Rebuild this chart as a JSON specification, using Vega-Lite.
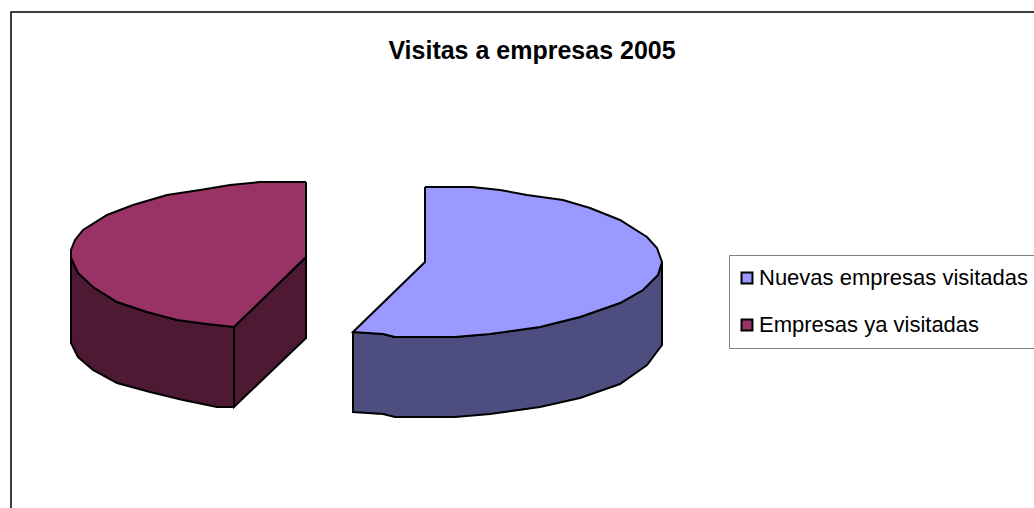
{
"$schema":"https://vega.github.io/schema/vega-lite/v6.json",
"width":1034,"height":508,"autosize":"none","padding":0,
"background":"white",
"view":{"stroke":null},
"title":{"text":"Visitas a empresas 2005","anchor":"middle","orient":"top","offset":-84,"dx":15,"font":"Liberation Sans","fontSize":25,"fontWeight":"bold","color":"#000000","baseline":"alphabetic"},
"data":{"values":[
{"serie":"Marco","cara":"marco","orden":1,"x":11,"y":508},{"serie":"Marco","cara":"marco","orden":2,"x":11,"y":12},{"serie":"Marco","cara":"marco","orden":3,"x":1034,"y":12},
{"serie":"Empresas ya visitadas","cara":"lateral1","orden":1,"x":71,"y":258},{"serie":"Empresas ya visitadas","cara":"lateral1","orden":2,"x":78,"y":273},{"serie":"Empresas ya visitadas","cara":"lateral1","orden":3,"x":93,"y":287},{"serie":"Empresas ya visitadas","cara":"lateral1","orden":4,"x":117,"y":302},{"serie":"Empresas ya visitadas","cara":"lateral1","orden":5,"x":147,"y":312},{"serie":"Empresas ya visitadas","cara":"lateral1","orden":6,"x":177,"y":320},{"serie":"Empresas ya visitadas","cara":"lateral1","orden":7,"x":207,"y":324},{"serie":"Empresas ya visitadas","cara":"lateral1","orden":8,"x":234,"y":327},{"serie":"Empresas ya visitadas","cara":"lateral1","orden":9,"x":234,"y":407},{"serie":"Empresas ya visitadas","cara":"lateral1","orden":10,"x":217,"y":407},{"serie":"Empresas ya visitadas","cara":"lateral1","orden":11,"x":183,"y":400},{"serie":"Empresas ya visitadas","cara":"lateral1","orden":12,"x":150,"y":392},{"serie":"Empresas ya visitadas","cara":"lateral1","orden":13,"x":117,"y":383},{"serie":"Empresas ya visitadas","cara":"lateral1","orden":14,"x":93,"y":370},{"serie":"Empresas ya visitadas","cara":"lateral1","orden":15,"x":78,"y":357},{"serie":"Empresas ya visitadas","cara":"lateral1","orden":16,"x":71,"y":343},{"serie":"Empresas ya visitadas","cara":"lateral1","orden":17,"x":71,"y":258},
{"serie":"Empresas ya visitadas","cara":"lateral2","orden":1,"x":234,"y":327},{"serie":"Empresas ya visitadas","cara":"lateral2","orden":2,"x":306,"y":257},{"serie":"Empresas ya visitadas","cara":"lateral2","orden":3,"x":306,"y":338},{"serie":"Empresas ya visitadas","cara":"lateral2","orden":4,"x":234,"y":407},{"serie":"Empresas ya visitadas","cara":"lateral2","orden":5,"x":234,"y":327},
{"serie":"Nuevas empresas visitadas","cara":"lateral3","orden":1,"x":353,"y":332},{"serie":"Nuevas empresas visitadas","cara":"lateral3","orden":2,"x":383,"y":334},{"serie":"Nuevas empresas visitadas","cara":"lateral3","orden":3,"x":395,"y":337},{"serie":"Nuevas empresas visitadas","cara":"lateral3","orden":4,"x":455,"y":337},{"serie":"Nuevas empresas visitadas","cara":"lateral3","orden":5,"x":490,"y":334},{"serie":"Nuevas empresas visitadas","cara":"lateral3","orden":6,"x":540,"y":327},{"serie":"Nuevas empresas visitadas","cara":"lateral3","orden":7,"x":580,"y":317},{"serie":"Nuevas empresas visitadas","cara":"lateral3","orden":8,"x":620,"y":303},{"serie":"Nuevas empresas visitadas","cara":"lateral3","orden":9,"x":643,"y":290},{"serie":"Nuevas empresas visitadas","cara":"lateral3","orden":10,"x":658,"y":275},{"serie":"Nuevas empresas visitadas","cara":"lateral3","orden":11,"x":662,"y":262},{"serie":"Nuevas empresas visitadas","cara":"lateral3","orden":12,"x":662,"y":345},{"serie":"Nuevas empresas visitadas","cara":"lateral3","orden":13,"x":647,"y":365},{"serie":"Nuevas empresas visitadas","cara":"lateral3","orden":14,"x":620,"y":384},{"serie":"Nuevas empresas visitadas","cara":"lateral3","orden":15,"x":580,"y":398},{"serie":"Nuevas empresas visitadas","cara":"lateral3","orden":16,"x":540,"y":407},{"serie":"Nuevas empresas visitadas","cara":"lateral3","orden":17,"x":490,"y":414},{"serie":"Nuevas empresas visitadas","cara":"lateral3","orden":18,"x":455,"y":417},{"serie":"Nuevas empresas visitadas","cara":"lateral3","orden":19,"x":395,"y":417},{"serie":"Nuevas empresas visitadas","cara":"lateral3","orden":20,"x":383,"y":414},{"serie":"Nuevas empresas visitadas","cara":"lateral3","orden":21,"x":353,"y":412},{"serie":"Nuevas empresas visitadas","cara":"lateral3","orden":22,"x":353,"y":332},
{"serie":"Empresas ya visitadas","cara":"superior","orden":1,"x":306,"y":182},{"serie":"Empresas ya visitadas","cara":"superior","orden":2,"x":260,"y":182},{"serie":"Empresas ya visitadas","cara":"superior","orden":3,"x":230,"y":185},{"serie":"Empresas ya visitadas","cara":"superior","orden":4,"x":200,"y":190},{"serie":"Empresas ya visitadas","cara":"superior","orden":5,"x":167,"y":195},{"serie":"Empresas ya visitadas","cara":"superior","orden":6,"x":133,"y":205},{"serie":"Empresas ya visitadas","cara":"superior","orden":7,"x":107,"y":215},{"serie":"Empresas ya visitadas","cara":"superior","orden":8,"x":83,"y":230},{"serie":"Empresas ya visitadas","cara":"superior","orden":9,"x":75,"y":240},{"serie":"Empresas ya visitadas","cara":"superior","orden":10,"x":71,"y":250},{"serie":"Empresas ya visitadas","cara":"superior","orden":11,"x":71,"y":258},{"serie":"Empresas ya visitadas","cara":"superior","orden":12,"x":78,"y":273},{"serie":"Empresas ya visitadas","cara":"superior","orden":13,"x":93,"y":287},{"serie":"Empresas ya visitadas","cara":"superior","orden":14,"x":117,"y":302},{"serie":"Empresas ya visitadas","cara":"superior","orden":15,"x":147,"y":312},{"serie":"Empresas ya visitadas","cara":"superior","orden":16,"x":177,"y":320},{"serie":"Empresas ya visitadas","cara":"superior","orden":17,"x":207,"y":324},{"serie":"Empresas ya visitadas","cara":"superior","orden":18,"x":234,"y":327},{"serie":"Empresas ya visitadas","cara":"superior","orden":19,"x":306,"y":257},{"serie":"Empresas ya visitadas","cara":"superior","orden":20,"x":306,"y":182},
{"serie":"Nuevas empresas visitadas","cara":"superior","orden":1,"x":425,"y":187},{"serie":"Nuevas empresas visitadas","cara":"superior","orden":2,"x":472,"y":187},{"serie":"Nuevas empresas visitadas","cara":"superior","orden":3,"x":500,"y":190},{"serie":"Nuevas empresas visitadas","cara":"superior","orden":4,"x":527,"y":195},{"serie":"Nuevas empresas visitadas","cara":"superior","orden":5,"x":563,"y":200},{"serie":"Nuevas empresas visitadas","cara":"superior","orden":6,"x":590,"y":208},{"serie":"Nuevas empresas visitadas","cara":"superior","orden":7,"x":620,"y":220},{"serie":"Nuevas empresas visitadas","cara":"superior","orden":8,"x":647,"y":237},{"serie":"Nuevas empresas visitadas","cara":"superior","orden":9,"x":657,"y":248},{"serie":"Nuevas empresas visitadas","cara":"superior","orden":10,"x":662,"y":262},{"serie":"Nuevas empresas visitadas","cara":"superior","orden":11,"x":658,"y":275},{"serie":"Nuevas empresas visitadas","cara":"superior","orden":12,"x":643,"y":290},{"serie":"Nuevas empresas visitadas","cara":"superior","orden":13,"x":620,"y":303},{"serie":"Nuevas empresas visitadas","cara":"superior","orden":14,"x":580,"y":317},{"serie":"Nuevas empresas visitadas","cara":"superior","orden":15,"x":540,"y":327},{"serie":"Nuevas empresas visitadas","cara":"superior","orden":16,"x":490,"y":334},{"serie":"Nuevas empresas visitadas","cara":"superior","orden":17,"x":455,"y":337},{"serie":"Nuevas empresas visitadas","cara":"superior","orden":18,"x":395,"y":337},{"serie":"Nuevas empresas visitadas","cara":"superior","orden":19,"x":383,"y":334},{"serie":"Nuevas empresas visitadas","cara":"superior","orden":20,"x":353,"y":332},{"serie":"Nuevas empresas visitadas","cara":"superior","orden":21,"x":425,"y":262},{"serie":"Nuevas empresas visitadas","cara":"superior","orden":22,"x":425,"y":187}
]},
"encoding":{
"x":{"field":"x","type":"quantitative","scale":{"domain":[0,1034]},"axis":null},
"y":{"field":"y","type":"quantitative","scale":{"domain":[508,0]},"axis":null},
"order":{"field":"orden","type":"quantitative"}
},
"layer":[
{"transform":[{"filter":"datum.cara==='marco'"}],"mark":{"type":"line","stroke":"#000000","strokeWidth":1.5,"clip":false}},
{"transform":[{"filter":"indexof(datum.cara,'lateral')===0"}],
"mark":{"type":"line","filled":true,"stroke":"#000000","strokeWidth":2},
"encoding":{"detail":{"field":"cara"},"fill":{"field":"serie","type":"nominal","legend":null,"scale":{"domain":["Nuevas empresas visitadas","Empresas ya visitadas"],"range":["#4D4D80","#4D1933"]}}}},
{"transform":[{"filter":"datum.cara==='superior'"}],
"mark":{"type":"line","filled":true,"stroke":"#000000","strokeWidth":2},
"encoding":{"fill":{"field":"serie","type":"nominal","scale":{"domain":["Nuevas empresas visitadas","Empresas ya visitadas"],"range":["#9999FF","#993366"]},
"legend":{"title":null,"orient":"none","legendX":729,"legendY":255,"symbolType":"square","symbolSize":120,"symbolStrokeColor":"#000000","symbolStrokeWidth":2,"symbolOffset":-5,"labelFont":"Liberation Sans","labelFontSize":22,"labelColor":"#000000","labelLimit":400,"labelOffset":1,"rowPadding":25,"padding":12,"strokeColor":"#808080","fillColor":"#FFFFFF"}}}}
],
"resolve":{"scale":{"fill":"independent"}}
}
